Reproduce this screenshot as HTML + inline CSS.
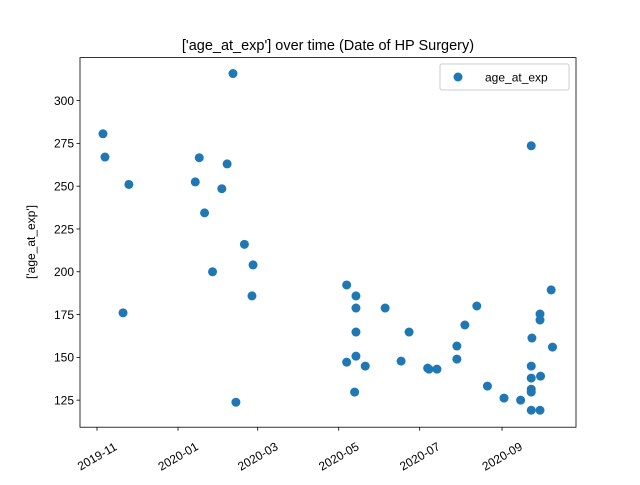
<!DOCTYPE html>
<html><head><meta charset="utf-8"><style>body{margin:0;background:#fff}svg text{font-family:"Liberation Sans","DejaVu Sans",sans-serif;fill:#000}</style></head>
<body>
<svg id="chart" width="640" height="480" xmlns="http://www.w3.org/2000/svg">
<text x="328" y="50" font-size="14.5" text-anchor="middle">['age_at_exp'] over time (Date of HP Surgery)</text>
<g id="plot"></g>
<rect x="80" y="57.6" width="496" height="369.6" fill="none" stroke="#000" stroke-width="0.8"/>
<text transform="translate(35,242) rotate(-90)" font-size="12" text-anchor="middle">['age_at_exp']</text>
<g>
<rect x="440" y="64" width="129" height="26" rx="2" fill="#fff" stroke="#ccc"/>
<circle cx="458" cy="77" r="4.5" fill="#1f77b4"/>
<text x="485" y="81.5" font-size="12">age_at_exp</text>
</g>
</svg>
<script>
// days since 2019-11-01
const dayValues=[4.5,6,24,19.6,74,77,81,87,94,98,102.4,104.6,111,117.5,116.7,188,188,195,195,195,195,194,202,217,229,235,249,250,256,271,271,277,286,294,306.5,319,327,327.5,327,327,327,327,327,333.6,333.6,334,333.6,342,343];
const ageValues=[280.6,267,251,176,252.5,266.6,234.4,200,248.5,263,315.8,123.8,216,204,185.9,192.3,147.2,185.9,178.8,164.8,150.7,129.7,144.9,178.8,147.8,164.8,143.7,143.1,143.1,156.6,149,168.9,180,133.2,126.2,125,273.6,161.3,144.9,137.9,131.4,129.7,119.1,175.3,171.8,139,119.1,189.4,156];
const xTickDays=[0,61,121,182,243,305];
const xTickLabels=["2019-11","2020-01","2020-03","2020-05","2020-07","2020-09"];
const yTicks=[125,150,175,200,225,250,275,300];
const NS="http://www.w3.org/2000/svg";
const X0=80,X1=576,Y0=427.2,Y1=57.6,dMin=-12.8,dMax=360.7,vMin=109.2,vMax=325.1;
const xs=d=>X0+(d-dMin)/(dMax-dMin)*(X1-X0);
const ys=v=>Y0-(v-vMin)/(vMax-vMin)*(Y0-Y1);
const svg=document.getElementById('chart'),plot=document.getElementById('plot');
function mk(t,a,p){const e=document.createElementNS(NS,t);for(const k in a)e.setAttribute(k,a[k]);(p||svg).appendChild(e);return e;}
dayValues.forEach((d,i)=>{const c=mk('circle',{cx:xs(d),cy:ys(ageValues[i]),r:4.5,fill:'#1f77b4'},plot);

});
xTickDays.forEach((d,i)=>{const x=xs(d);
const l=mk('line',{x1:x,x2:x,y1:Y0,y2:Y0+3.5,stroke:'#000','stroke-width':0.8});


const cy=Y0+29;
const t=mk('text',{x:x,y:cy+4.3,'font-size':12,'text-anchor':'middle',transform:`rotate(-30 ${x} ${cy})`});
t.textContent=xTickLabels[i];

});
yTicks.forEach(v=>{const y=ys(v);
const l=mk('line',{x1:X0-3.5,x2:X0,y1:y,y2:y,stroke:'#000','stroke-width':0.8});


const t=mk('text',{x:X0-6,y:y+4.3,'font-size':12,'text-anchor':'end'});
t.textContent=v;

});
</script>
</body></html>
